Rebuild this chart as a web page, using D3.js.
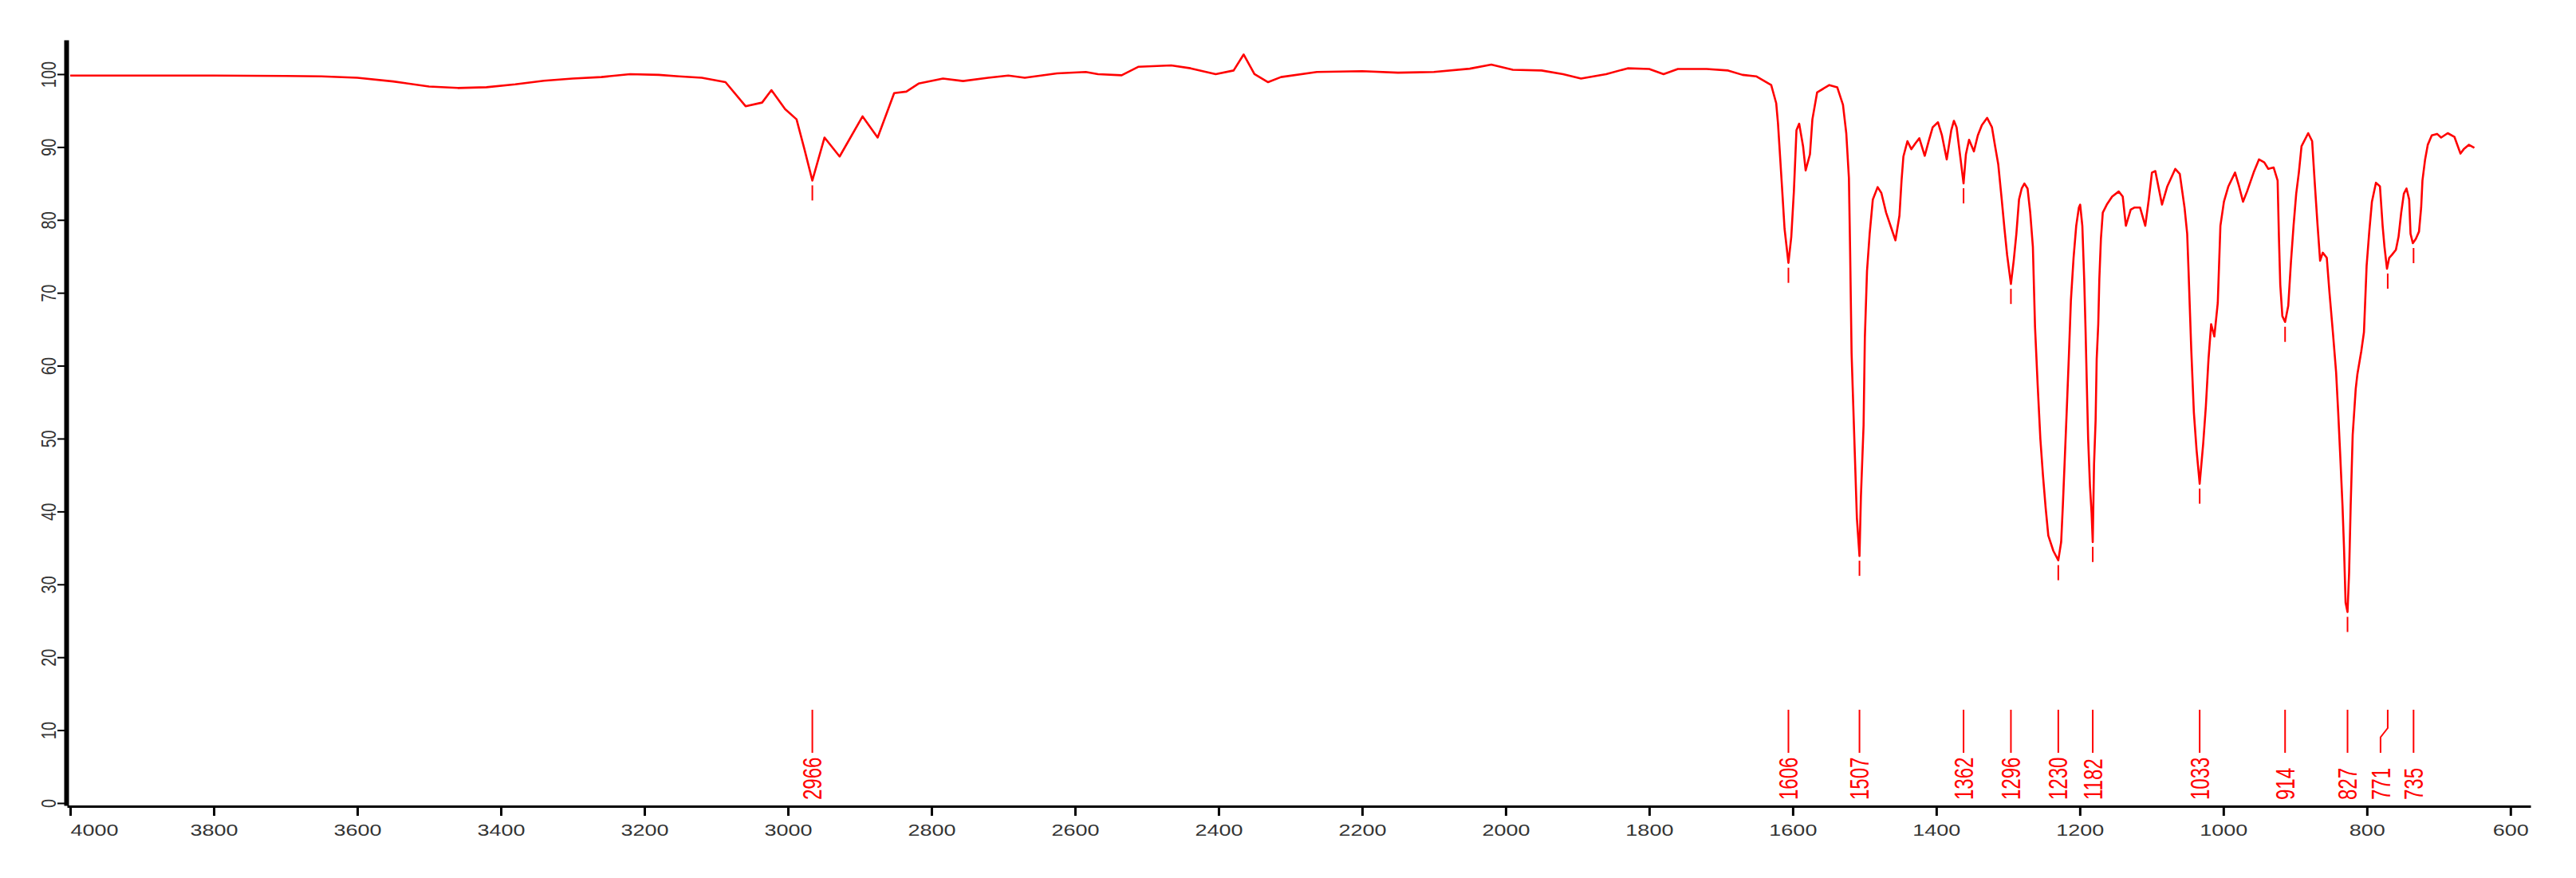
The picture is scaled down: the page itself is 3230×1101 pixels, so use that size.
<!DOCTYPE html>
<html>
<head>
<meta charset="utf-8">
<script src="https://cdn.jsdelivr.net/npm/d3@7"></script>
<style>
  html, body { margin: 0; padding: 0; background: #fff; }
  svg { display: block; }
</style>
</head>
<body>
<div id="visualization"></div>
<script>
// IR spectrum: wavenumber (cm-1) and transmittance (%)
const wavenumbers = [
  4000, 3900, 3800, 3700, 3650, 3600, 3550, 3500, 3460, 3420, 3380, 3340, 3300, 3260, 3220, 3180, 3152, 3120,
  3087, 3059, 3036, 3023, 3004, 2988, 2977, 2966, 2949, 2928, 2896, 2875, 2852, 2835, 2818, 2784, 2756, 2721,
  2693, 2670, 2625, 2585, 2568, 2535, 2512, 2466, 2439, 2404, 2379, 2365, 2350, 2331, 2313, 2263,
  2200, 2150, 2100, 2050, 2020, 1990, 1950, 1920, 1895, 1860, 1830, 1800, 1780, 1760, 1720, 1690, 1670,
  1651, 1630, 1623, 1620.5, 1615, 1611.4, 1606, 1602, 1598.4, 1594.8, 1591, 1585.6, 1582, 1576, 1572.6,
  1566, 1549, 1538, 1530, 1525.4, 1521.7, 1520, 1518, 1513.6, 1510.6, 1507, 1505, 1501.3, 1499.5, 1496.5,
  1492.8, 1488.4, 1481.7, 1476.5, 1469.9, 1462.4, 1456.9, 1451.3, 1448.4, 1445.8, 1440.2, 1434.7, 1429.1,
  1423.6, 1416.1, 1410.6, 1405, 1397.6, 1392.1, 1385.4, 1379.1, 1375.4, 1371.7, 1366.1, 1362, 1358.7, 1354.3,
  1347.6, 1342.1, 1336.5, 1329.1, 1322.4, 1318, 1313.6, 1308.8, 1305, 1301.3, 1296, 1292.1, 1288.4, 1284.7,
  1281, 1277.2, 1272.8, 1269.1, 1265.4, 1262.4, 1258.7, 1255, 1251.3, 1247.6, 1243.9, 1236.9, 1230, 1226,
  1223.6, 1221, 1218, 1215.1, 1212.4, 1208.7, 1205, 1201.3, 1199.5, 1196.5, 1193.9, 1192.1, 1190.2, 1188.4,
  1185.8, 1183.6, 1182, 1180.2, 1178, 1176.5, 1174.3, 1172.8, 1170.6, 1168, 1162.4, 1155, 1145.8, 1140.2,
  1135.8, 1129.1, 1123.6, 1116.1, 1108.8, 1103.9, 1099.5, 1094.8, 1085.5, 1078.1, 1067, 1060.7, 1054.1,
  1050.4, 1048.5, 1044.8, 1041.1, 1037.4, 1033, 1028.1, 1024.4, 1020.7, 1017, 1012.6, 1007.8, 1004.1, 999.2,
  993, 983.7, 978.1, 972.6, 967, 957.8, 950.4, 943, 937.4, 930, 924.4, 922.6, 920.7, 917.8, 914, 909.6,
  905.9, 902.2, 898.5, 894.8, 891.1, 881.8, 876.3, 872.6, 868.9, 865.2, 861.5, 855.9, 852.2, 847.4, 842.9,
  840, 837.4, 834, 831.9, 829.7, 827, 824.8, 822.6, 819.8, 815.6, 813.3, 807.8, 804.1, 800.4, 796.7, 793,
  787.4, 781.8, 778.1, 775.5, 772, 768.9, 765.2, 759.6, 755.9, 752.2, 748.5, 744.8, 741.1, 739.2, 736,
  731.8, 727.4, 724.4, 722.6, 718.9, 715.2, 709.6, 702.2, 696.6, 687.4, 678.1, 669.6, 665.1, 657.8, 650.3
];
const transmittance = [
  99.8, 99.8, 99.8, 99.75, 99.7, 99.5, 99.0, 98.3, 98.1, 98.2, 98.6, 99.1, 99.4, 99.6, 100.0, 99.9, 99.7, 99.5,
  98.9, 95.6, 96.1, 97.8, 95.2, 93.8, 89.7, 85.4, 91.3, 88.7, 94.2, 91.3, 97.4, 97.6, 98.7, 99.4, 99.05, 99.5,
  99.8, 99.5, 100.1, 100.3, 100.0, 99.85, 101.0, 101.2, 100.8, 100.0, 100.5, 102.7, 100.0, 98.9, 99.6, 100.3,
  100.4, 100.2, 100.3, 100.75, 101.3, 100.6, 100.5, 100.0, 99.4, 100.0, 100.8, 100.7, 100.0, 100.7, 100.7, 100.5, 99.9,
  99.7, 98.5, 96.0, 93.2, 84.6, 78.8, 74.1, 77.7, 83.9, 92.3, 93.2, 90.1, 86.8, 89.0, 93.8,
  97.5, 98.5, 98.2, 95.8, 91.9, 85.7, 75.5, 61.7, 48.2, 39.1, 33.9, 42.0, 51.8, 63.9, 73.0,
  78.1, 82.8, 84.5, 83.7, 81.0, 78.8, 77.2, 80.6, 85.4, 88.7, 90.8, 89.7, 90.5,
  91.2, 88.8, 90.8, 92.7, 93.4, 91.6, 88.3, 92.3, 93.6, 92.7, 88.3, 85.0, 89.0, 91.0,
  89.4, 91.6, 93.0, 94.0, 92.7, 90.1, 87.6, 82.8, 78.8, 75.2, 71.2, 74.4, 78.1, 82.8,
  84.3, 85.0, 84.3, 81.0, 76.3, 65.3, 57.3, 50.0, 44.9, 40.5, 36.7, 34.6, 33.3, 35.8,
  40.9, 47.1, 54.4, 61.7, 69.0, 74.8, 79.2, 81.7, 82.1, 79.2, 71.9, 65.3, 57.3, 50.0,
  43.4, 39.8, 35.8, 46.4, 52.5, 60.9, 65.7, 71.9, 77.4, 81.0, 82.1, 83.2, 83.9, 83.2,
  79.2, 81.4, 81.7, 81.7, 79.2, 82.8, 86.5, 86.7, 82.1, 84.6, 87.0, 86.3, 81.7,
  78.1, 73.0, 62.4, 53.6, 48.5, 43.8, 49.3, 54.4, 60.9, 65.7, 64.0, 68.6, 79.2, 82.5,
  84.6, 86.5, 84.6, 82.5, 83.9, 86.5, 88.3, 87.9, 87.0, 87.2, 85.4, 77.7, 71.1, 66.8, 66.0, 68.2,
  74.1, 79.2, 83.6, 86.5, 90.1, 91.9, 90.8, 85.0, 79.5, 74.4, 75.5, 74.8, 70.1, 64.6, 59.1,
  53.6, 48.2, 40.8, 35.0, 27.5, 26.2, 31.6, 40.8, 50.5, 56.8, 58.8, 62.0, 64.6, 73.7, 78.4, 82.5,
  85.1, 84.6, 79.2, 76.3, 73.3, 74.8, 75.2, 75.9, 77.7, 81.0, 83.6, 84.3, 82.8, 78.1, 76.8,
  77.4, 78.4, 81.7, 85.4, 88.3, 90.3, 91.6, 91.8, 91.3, 91.9, 91.4, 89.1, 89.7, 90.3, 89.9
];

// picked peaks printed along the bottom
const peakLabels = [2966, 1606, 1507, 1362, 1296, 1230, 1182, 1033, 914, 827, 771, 735];

// axis ticks
const xTicks = d3.range(4000, 599, -200);
const yTicks = d3.range(0, 101, 10);

function main(){
    let width = 3230;
    let height = 1101;
    let font = '"Liberation Sans", Arial, Helvetica, sans-serif';

    let svg = d3.select(document.getElementById('visualization'))
        .append('svg')
        .attr('width', width)
        .attr('height', height)
        .style('background', '#fff');

    // scales: wavenumber runs backwards, left to right
    let x = d3.scaleLinear().domain([4004.5, 572]).range([84, 3173]);
    let y = d3.scaleLinear().domain([-0.33, 104.7]).range([1010, 50]);

    // x axis (first label starts at its tick instead of centring on it)
    svg.append('g')
        .attr('transform', 'translate(0,1011)')
        .call(d3.axisBottom(x).tickValues(xTicks).tickSize(12).tickSizeOuter(0).tickFormat(d3.format('d')))
        .attr('font-family', font)
        .attr('font-size', 20)
        .call(g => g.select('.domain').attr('stroke', '#000').attr('stroke-width', 3))
        .call(g => g.selectAll('.tick line').attr('stroke', '#000').attr('stroke-width', 3))
        .call(g => g.selectAll('.tick text')
            .attr('y', 23)
            .attr('dy', '0.71em')
            .attr('fill', '#333')
            .attr('text-anchor', (d, i) => i === 0 ? 'start' : 'middle')
            .attr('transform', 'scale(1.35,1)'));

    // y axis, labels turned on their side
    svg.append('g')
        .attr('transform', 'translate(83,0)')
        .call(d3.axisLeft(y).tickValues(yTicks).tickSize(11).tickSizeOuter(0))
        .attr('font-family', font)
        .attr('font-size', 20)
        .call(g => g.select('.domain').attr('stroke', '#000').attr('stroke-width', 6))
        .call(g => g.selectAll('.tick line').attr('stroke', '#000').attr('stroke-width', 2))
        .call(g => g.selectAll('.tick text')
            .attr('x', 0)
            .attr('dy', '0.35em')
            .attr('text-anchor', 'middle')
            .attr('fill', '#333')
            .attr('transform', 'translate(-22,0) scale(1.26,1) rotate(-90)'));

    // the spectrum
    let points = d3.zip(wavenumbers, transmittance);
    let line = d3.line()
        .x(d => x(d[0]))
        .y(d => y(d[1]));

    svg.append('path')
        .datum(points)
        .attr('d', line)
        .attr('fill', 'none')
        .attr('stroke', '#ff0000')
        .attr('stroke-width', 2.6)
        .attr('stroke-linejoin', 'round');

    // depth of each picked peak = lowest point near its wavenumber
    let depth = peakLabels.map(p => d3.min(points.filter(d => Math.abs(d[0] - p) <= 3), d => d[1]));

    // short tick under each dip
    svg.selectAll('line.dip')
        .data(peakLabels)
        .enter()
        .append('line')
            .attr('class', 'dip')
            .attr('x1', d => x(d))
            .attr('x2', d => x(d))
            .attr('y1', (d, i) => y(depth[i]) + 6)
            .attr('y2', (d, i) => y(depth[i]) + 25)
            .attr('stroke', '#ff0000')
            .attr('stroke-width', 2);

    // spread labels that would collide
    let lx = peakLabels.map(p => x(p));
    let pos = lx.slice();
    for (let i = 1; i < lx.length - 1; i++){
        if (lx[i + 1] - lx[i] < 35) pos[i] = (lx[i - 1] + lx[i + 1]) / 2;
    }

    svg.selectAll('path.peakline')
        .data(peakLabels)
        .enter()
        .append('path')
            .attr('class', 'peakline')
            .attr('d', (d, i) => pos[i] === lx[i]
                ? `M${lx[i]},890V944`
                : `M${lx[i]},890V913L${pos[i]},924.5V944`)
            .attr('fill', 'none')
            .attr('stroke', '#ff0000')
            .attr('stroke-width', 2);

    svg.selectAll('text.peak')
        .data(peakLabels)
        .enter()
        .append('text')
            .attr('class', 'peak')
            .attr('transform', (d, i) => `translate(${pos[i]},1003) scale(1.38,1) rotate(-90)`)
            .attr('dy', '0.35em')
            .attr('font-family', font)
            .attr('font-size', 24)
            .attr('fill', '#ff0000')
            .text(d => d);
}

window.onload = () => {
    main();
}
</script>
</body>
</html>
